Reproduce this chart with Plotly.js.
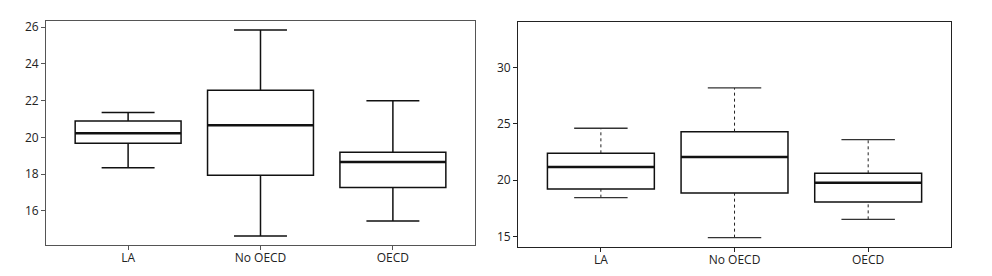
<!DOCTYPE html>
<html>
<head>
<meta charset="utf-8">
<script src="https://cdn.plot.ly/plotly-3.0.1.min.js"></script>
<style>html,body{margin:0;padding:0;background:#fff;}#chart{width:992px;height:276px;}</style>
</head>
<body>
<div id="chart"></div>
<script>
// Categories
const categories = ["LA", "No OECD", "OECD"];

// Left panel stats
const leftLower  = [18.35, 14.64, 15.46];
const leftQ1     = [19.68, 17.94, 17.27];
const leftMedian = [20.22, 20.66, 18.66];
const leftQ3     = [20.89, 22.56, 19.19];
const leftUpper  = [21.36, 25.84, 22.00];

// Right panel stats
const rightLower  = [18.45, 14.91, 16.53];
const rightQ1     = [19.22, 18.87, 18.07];
const rightMedian = [21.17, 22.05, 19.78];
const rightQ3     = [22.38, 24.30, 20.61];
const rightUpper  = [24.60, 28.17, 23.59];

const pos = categories.map((c, i) => i);
const BOXW = 0.8, CAPW = 0.4;

function segs(yvals, half) {
  const xs = [], ys = [];
  yvals.forEach((v, i) => { xs.push(i - half, i + half, null); ys.push(v, v, null); });
  return {xs, ys};
}
function vsegs(a, b) {
  const xs = [], ys = [];
  a.forEach((v, i) => { xs.push(i, i, null); ys.push(v, b[i], null); });
  return {xs, ys};
}

const traces = [];
// Left: full box traces with whiskers
traces.push({
  type: 'box', x: pos, q1: leftQ1, median: leftMedian, q3: leftQ3,
  lowerfence: leftLower, upperfence: leftUpper, width: BOXW, whiskerwidth: 0.5,
  fillcolor: 'rgba(255,255,255,0)', line: {color: '#111', width: 1.5},
  xaxis: 'x', yaxis: 'y', hoverinfo: 'skip', showlegend: false
});
const lm = segs(leftMedian, BOXW / 2);
traces.push({type: 'scatter', mode: 'lines', x: lm.xs, y: lm.ys, line: {color: '#111', width: 2.5},
  xaxis: 'x', yaxis: 'y', showlegend: false, hoverinfo: 'skip'});

// Right: boxes without whiskers, dotted whiskers drawn separately
traces.push({
  type: 'box', x: pos, q1: rightQ1, median: rightMedian, q3: rightQ3,
  lowerfence: rightQ1, upperfence: rightQ3, width: BOXW, whiskerwidth: 0,
  fillcolor: 'rgba(255,255,255,0)', line: {color: '#111', width: 1.5},
  xaxis: 'x2', yaxis: 'y2', hoverinfo: 'skip', showlegend: false
});
const rm = segs(rightMedian, BOXW / 2);
traces.push({type: 'scatter', mode: 'lines', x: rm.xs, y: rm.ys, line: {color: '#111', width: 2.5},
  xaxis: 'x2', yaxis: 'y2', showlegend: false, hoverinfo: 'skip'});
const wu = vsegs(rightQ3, rightUpper), wl = vsegs(rightLower, rightQ1);
traces.push({type: 'scatter', mode: 'lines', x: wu.xs.concat(wl.xs), y: wu.ys.concat(wl.ys),
  line: {color: '#222', width: 1, dash: 'dot'}, xaxis: 'x2', yaxis: 'y2', showlegend: false, hoverinfo: 'skip'});
const cu = segs(rightUpper, CAPW / 2), cl = segs(rightLower, CAPW / 2);
traces.push({type: 'scatter', mode: 'lines', x: cu.xs.concat(cl.xs), y: cu.ys.concat(cl.ys),
  line: {color: '#333', width: 1.3}, xaxis: 'x2', yaxis: 'y2', showlegend: false, hoverinfo: 'skip'});

const font = {family: 'Open Sans, sans-serif', size: 12, color: '#222'};
function xax(domain, anchor, lc) {
  return {domain, anchor, range: [-0.62, 2.62], tickvals: pos, ticktext: categories,
    showgrid: false, zeroline: false, showline: true, mirror: true, linecolor: lc, linewidth: 1,
    ticks: 'outside', ticklen: 4, tickcolor: lc, tickfont: font, ticklabelstandoff: -2, fixedrange: true};
}
function yax(domain, anchor, range, dtick, lc) {
  return {domain, anchor, range, dtick, showgrid: false, zeroline: false, showline: true, mirror: true,
    linecolor: lc, linewidth: 1, ticks: 'outside', ticklen: 4, tickcolor: lc, tickfont: font, fixedrange: true};
}

const layout = {
  width: 992, height: 276, margin: {l: 0, r: 0, t: 0, b: 0},
  paper_bgcolor: '#fff', plot_bgcolor: '#fff', showlegend: false, font,
  xaxis: xax([0.0464, 0.4788], 'y', '#555'),
  yaxis: yax([0.1123, 0.9239], 'x', [14.15, 26.33], 2, '#555'),
  xaxis2: xax([0.5222, 0.9587], 'y2', '#222'),
  yaxis2: yax([0.1062, 0.9214], 'x2', [14.11, 34.04], 5, '#222')
};

Plotly.newPlot('chart', traces, layout, {staticPlot: true, displayModeBar: false});
</script>
</body>
</html>
